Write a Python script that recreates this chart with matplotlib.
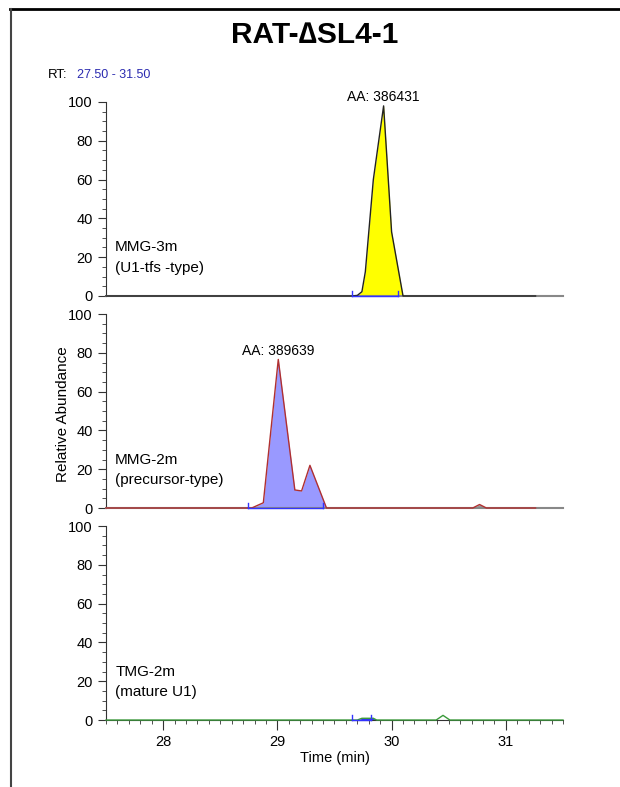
import numpy as np
import matplotlib.pyplot as plt
from matplotlib.ticker import MultipleLocator

plt.rcParams['font.family'] = ['Liberation Sans', 'DejaVu Sans']

# retention time window
t_min, t_max = 27.5, 31.5

# MMG-3m trace
t1 = [27.5, 29.65, 29.70, 29.74, 29.77, 29.84, 29.93, 30.00, 30.10, 31.26]
y1 = [0, 0, 0.3, 2.2, 12.5, 60, 98, 33, 0, 0]
peak1 = (29.65, 30.10)
marks1 = [29.65, 30.06]

# MMG-2m trace
t2 = [27.5, 28.775, 28.877, 29.008, 29.153, 29.212, 29.285, 29.43, 30.71, 30.77, 30.83, 31.26]
y2 = [0, 0, 2.7, 76.6, 9.3, 8.8, 22, 0, 0, 1.8, 0, 0]
peak2 = (28.775, 29.43)
marks2 = [28.74, 29.40]

# TMG-2m trace
t3 = [27.5, 29.70, 29.74, 29.84, 29.87, 30.39, 30.45, 30.51, 31.5]
y3 = [0, 0, 0.9, 0.9, 0, 0, 2.4, 0, 0]
peak3 = (29.70, 29.87)
marks3 = [29.65, 29.82]

names = ["MMG-3m", "MMG-2m", "TMG-2m"]
subs = ["(U1-tfs -type)", "(precursor-type)", "(mature U1)"]
areas = ["AA: 386431", "AA: 389639", None]

fig = plt.figure(figsize=(6.2, 7.87), dpi=100)

# page border (top and left)
fig.add_artist(plt.Line2D([0.016, 1.0], [0.988, 0.988], color="black", lw=2))
fig.add_artist(plt.Line2D([0.018, 0.018], [0.0, 0.988], color="#444444", lw=1.5))

fig.text(0.508, 0.955, "RAT-\u2206SL4-1", ha="center", va="center", fontsize=21.5, fontweight="bold")
fig.text(0.077, 0.905, "RT:", fontsize=9.5, va="center")
fig.text(0.124, 0.905, "27.50 - 31.50", fontsize=9, va="center", color="#2b2bb0")

left, width, height = 0.171, 0.737, 0.2465
bottoms = [0.6239, 0.3545, 0.0851]
traces = [(t1, y1, peak1, marks1, "yellow", "#222222"),
          (t2, y2, peak2, marks2, "#9999ff", "#b03030"),
          (t3, y3, peak3, marks3, "#3333ff", "#3a9a3a")]

axes = []
for i, (t, y, pk, mk, fc, lc) in enumerate(traces):
    ax = fig.add_axes([left, bottoms[i], width, height])
    axes.append(ax)
    t = np.array(t)
    y = np.array(y)
    ax.set_xlim(t_min, t_max)
    ax.set_ylim(0, 100)
    m = (t >= pk[0]) & (t <= pk[1])
    ax.fill_between(t[m], 0, y[m], color=fc, lw=0, zorder=2)
    if i == 1:
        m2 = t >= 30.70
        ax.fill_between(t[m2], 0, y[m2], color="#999999", lw=0, zorder=2)
    ax.plot(t, y, color=lc, lw=1, zorder=3, clip_on=False)
    ax.plot(list(mk), [0, 0], color="#3333ff", lw=1, zorder=4, clip_on=False)
    for xm in mk:
        ax.plot([xm, xm], [0, 2.5], color="#3333ff", lw=1, zorder=4, clip_on=False)
    for s in ["top", "right"]:
        ax.spines[s].set_visible(False)
    ax.spines["left"].set_color("#333333")
    ax.yaxis.set_major_locator(MultipleLocator(20))
    ax.yaxis.set_minor_locator(MultipleLocator(5))
    ax.tick_params(axis="y", which="major", length=6, labelsize=10.5, direction="out", color="#333333")
    ax.tick_params(axis="y", which="minor", length=3, color="#333333")
    if i < 2:
        ax.spines["bottom"].set_color("#888888")
        ax.spines["bottom"].set_linewidth(1.5)
        ax.tick_params(axis="x", which="both", bottom=False, labelbottom=False)
    else:
        ax.spines["bottom"].set_color("#333333")
        ax.xaxis.set_major_locator(MultipleLocator(1))
        ax.xaxis.set_minor_locator(MultipleLocator(0.1))
        ax.tick_params(axis="x", which="major", length=7, labelsize=10.5, color="#333333")
        ax.tick_params(axis="x", which="minor", length=3, color="#333333")
        ax.set_xlabel("Time (min)", fontsize=10.5, labelpad=2)
    ax.text(0.02, 0.25, names[i], transform=ax.transAxes, fontsize=11, va="center")
    ax.text(0.02, 0.145, subs[i], transform=ax.transAxes, fontsize=11, va="center")
    if areas[i]:
        k = int(np.argmax(y))
        ax.annotate(areas[i], (t[k], y[k]), xytext=(0, 1), textcoords="offset points",
                    ha="center", va="bottom", fontsize=10, annotation_clip=False)
    ax.patch.set_alpha(0)

fig.text(0.101, 0.474, "Relative Abundance", rotation=90, ha="center", va="center", fontsize=11)

plt.savefig("out.png", dpi=100)
